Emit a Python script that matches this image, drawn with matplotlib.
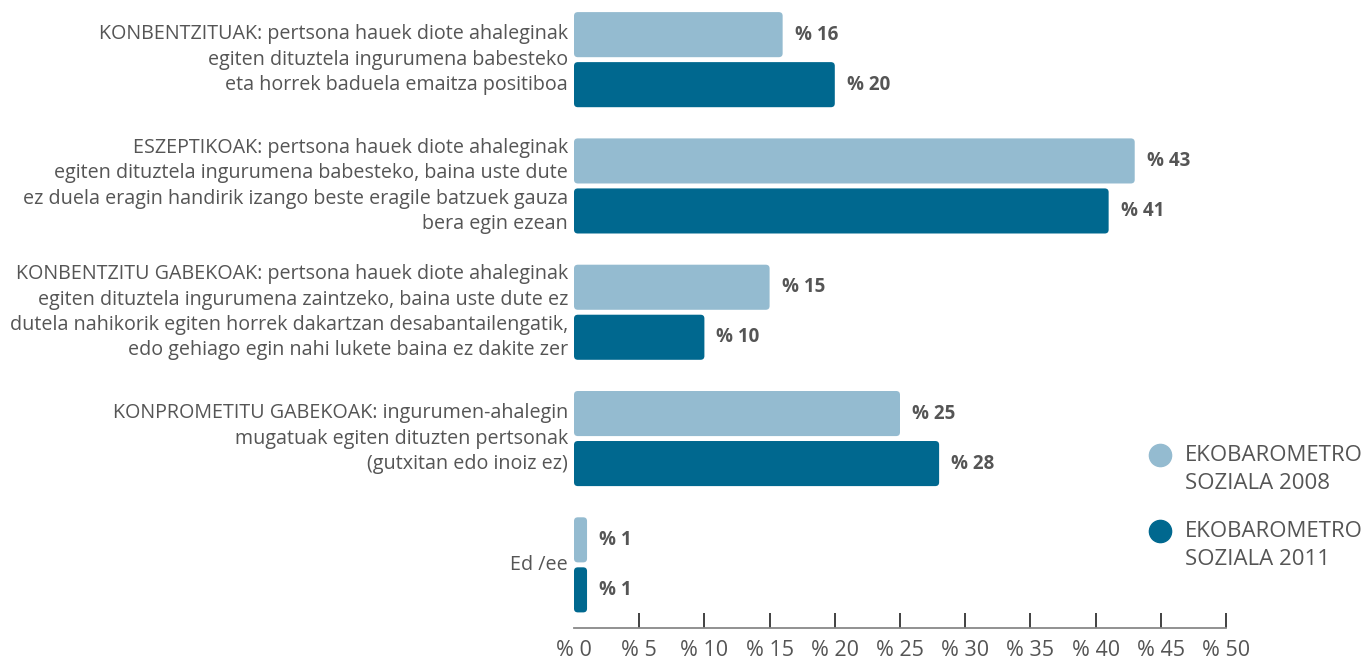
import matplotlib
matplotlib.use('Agg')
import matplotlib.pyplot as plt
import numpy as np
from matplotlib.patches import FancyBboxPatch
from matplotlib.lines import Line2D

plt.rcParams['font.family'] = ['Open Sans', 'DejaVu Sans']

categories = [
    'KONBENTZITUAK: pertsona hauek diote ahaleginak\negiten dituztela ingurumena babesteko\neta horrek baduela emaitza positiboa',
    'ESZEPTIKOAK: pertsona hauek diote ahaleginak\negiten dituztela ingurumena babesteko, baina uste dute\nez duela eragin handirik izango beste eragile batzuek gauza\nbera egin ezean',
    'KONBENTZITU GABEKOAK: pertsona hauek diote ahaleginak\negiten dituztela ingurumena zaintzeko, baina uste dute ez\ndutela nahikorik egiten horrek dakartzan desabantailengatik,\nedo gehiago egin nahi lukete baina ez dakite zer',
    'KONPROMETITU GABEKOAK: ingurumen-ahalegin\nmugatuak egiten dituzten pertsonak\n(gutxitan edo inoiz ez)',
    'Ed /ee',
]
values_2008 = [16, 43, 15, 25, 1]
values_2011 = [20, 41, 10, 28, 1]
series_labels = ['EKOBAROMETRO\nSOZIALA 2008', 'EKOBAROMETRO\nSOZIALA 2011']
xticks = np.arange(0, 55, 5)
xtick_labels = [f'% {t}' for t in xticks]

c_light = '#94bbd0'
c_dark = '#00688f'
c_text = '#555555'

W, H = 1367, 659
fig = plt.figure(figsize=(W / 100, H / 100), dpi=100)
left = 574 / W
right = 1226 / W
bottom = 31 / H
top_px = -3.5
ax = fig.add_axes([left, bottom, right - left, (628 - top_px) / H])

y = np.arange(len(categories))
h = 0.357
off = 0.198

def rounded(bars, color):
    for b in bars:
        b.set_visible(False)
        p = FancyBboxPatch((b.get_x(), b.get_y()), b.get_width(), b.get_height(),
                           boxstyle='round,pad=0,rounding_size=0.3',
                           mutation_aspect=0.1, facecolor=color,
                           edgecolor='none', linewidth=0)
        ax.add_patch(p)

b1 = ax.barh(y - off, values_2008, height=h, color=c_light)
b2 = ax.barh(y + off, values_2011, height=h, color=c_dark)
rounded(b1, c_light)
rounded(b2, c_dark)

for vals, offs in ((values_2008, -off), (values_2011, off)):
    for i, v in enumerate(vals):
        ax.annotate(f'% {v}', (v, i + offs), xytext=(12, 0), textcoords='offset pixels',
                    va='center', ha='left', fontsize=13.5, fontweight='bold', color=c_text)

for i, cat in enumerate(categories):
    ax.annotate(cat, (0, i), xytext=(-6, 0), textcoords='offset pixels',
                ha='right', va='center', fontsize=14.2, color=c_text,
                multialignment='right', linespacing=1.36, annotation_clip=False)

ax.set_xlim(0, 50)
ax.set_ylim(len(categories) - 0.5, -0.5)
ax.set_yticks([])
ax.set_xticks(xticks)
ax.set_xticklabels(xtick_labels, fontsize=15.5, color=c_text)
ax.tick_params(axis='x', direction='in', length=11, width=1.3, color='#333333', pad=9)
ax.xaxis.get_major_ticks()[0].tick1line.set_visible(False)
for s in ['top', 'right', 'left']:
    ax.spines[s].set_visible(False)
ax.spines['bottom'].set_color('#888888')
ax.spines['bottom'].set_linewidth(1.3)
ax.patch.set_alpha(0)

# legend
for k, (lab, col) in enumerate(zip(series_labels, [c_light, c_dark])):
    ty = 447 + k * 76
    fig.add_artist(Line2D([1160 / W], [1 - (ty + 8) / H], marker='o', markersize=16,
                          color=col, linestyle='none', transform=fig.transFigure))
    fig.text(1185 / W, 1 - (ty - 2) / H, lab, fontsize=16, color=c_text,
             va='top', ha='left', linespacing=1.45)

fig.savefig('out.png', dpi=100)
